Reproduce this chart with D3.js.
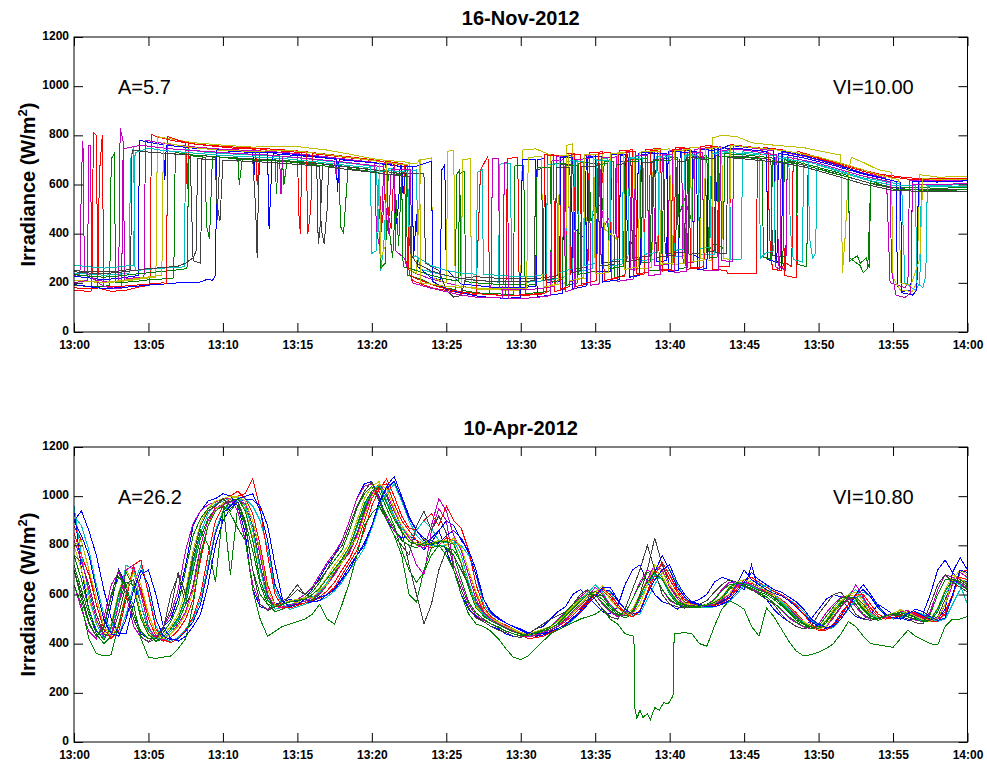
<!DOCTYPE html>
<html>
<head>
<meta charset="utf-8">
<script src="https://cdn.jsdelivr.net/npm/d3@7"></script>
<style>
  body { margin: 0; background: #fff; }
  svg text { font-family: Arial, "Liberation Sans", sans-serif; }
</style>
</head>
<body>
<svg id="chart" width="987" height="764"></svg>
<script>
// ---- ticks & labels ----
const timeTicks = [0, 5, 10, 15, 20, 25, 30, 35, 40, 45, 50, 55, 60]; // minutes after 13:00
const timeLabels = ["13:00", "13:05", "13:10", "13:15", "13:20", "13:25", "13:30",
                    "13:35", "13:40", "13:45", "13:50", "13:55", "14:00"];
const irrTicks = [0, 200, 400, 600, 800, 1000, 1200];

const novTitle = "16-Nov-2012";
const novNotes = ["A=5.7", "VI=10.00"];
const aprTitle = "10-Apr-2012";
const aprNotes = ["A=26.2", "VI=10.80"];

// matlab default line colours
const palette = ["#0000ff", "#008000", "#ff0000", "#00bfbf", "#bf00bf", "#bfbf00", "#404040"];

// ---- 16-Nov sensors: [minute, W/m2, minute, W/m2, ...] ----
const nov1 = [0,227, 1,220, 2,213, 3,218, 4,227, 4.3,230, 4.4,780, 5,772, 6,762, 6.1,620, 6.2,760, 8,748, 10,740, 12,734, 12.1,640, 12.2,732, 14,728, 16,716, 17.6,704, 17.7,580, 17.8,702, 20,690, 21.5,678, 21.6,430, 21.8,520, 21.9,676, 22.7,672, 22.8,300, 23,480, 23.1,265, 24,220, 24.6,213, 24.7,660, 24.9,680, 25,255, 26,195, 28,183, 30,181, 31,185, 31.1,700, 31.6,706, 31.7,200, 32.6,207, 32.7,710, 33.5,712, 33.6,420, 34.3,380, 34.4,714, 35,716, 35.1,245, 36,247, 36.1,722, 37,724, 37.1,480, 37.3,350, 37.8,400, 37.9,728, 39,730, 39.1,285, 39.8,290, 39.9,734, 41.5,738, 41.6,315, 42,300, 42.1,742, 43,746, 43.1,520, 43.3,750, 45,744, 46.5,734, 46.6,295, 47.2,283, 47.3,728, 49,708, 51,678, 53,642, 55,616, 55.2,610, 55.3,185, 55.6,165, 56.2,170, 56.3,612, 58,610, 60,615];
const nov2 = [0,190, 1,185, 2,185, 2.4,190, 2.5,705, 2.7,725, 2.8,200, 4,205, 5,212, 6,216, 6.7,220, 6.8,730, 8,720, 10,711, 11,708, 11.1,600, 11.3,705, 13.5,701, 13.6,560, 13.7,699, 16,689, 18,675, 20,661, 21,653, 21.1,450, 21.4,300, 21.6,560, 21.8,350, 22,649, 22.3,647, 22.4,230, 23,220, 23.5,210, 24,195, 25,178, 25.6,173, 25.7,640, 25.9,660, 26,170, 27,160, 28,155, 29.5,154, 29.6,675, 30.2,678, 30.3,156, 31.5,162, 32,168, 32.1,683, 33,685, 33.1,190, 33.8,200, 33.9,687, 34.6,690, 34.7,450, 35.2,520, 35.5,500, 35.6,693, 36.2,695, 36.3,222, 37,230, 37.1,699, 38.5,705, 38.6,248, 39.5,252, 39.6,707, 40.5,709, 40.6,258, 41.2,262, 41.3,711, 42.5,717, 42.6,330, 43,360, 43.6,340, 43.7,725, 45,721, 47,707, 47.1,290, 47.6,280, 47.7,701, 49,685, 51.5,645, 52,635, 52.1,300, 52.8,270, 53,240, 53.3,260, 53.5,605, 55,589, 58,585, 60,587];
const nov3 = [0,170, 1,165, 1.2,168, 1.3,810, 1.5,800, 1.6,180, 2.5,165, 3.5,170, 4.5,185, 5.1,190, 5.2,805, 5.5,795, 6.5,780, 7.5,770, 7.6,580, 7.7,767, 9,760, 11,751, 13,745, 15,737, 15.1,480, 15.2,400, 15.3,735, 17,723, 19,709, 20.5,697, 20.6,400, 20.8,500, 20.9,695, 22,685, 22.2,680, 22.3,260, 22.6,400, 22.7,210, 24,180, 26,158, 27,152, 27.3,660, 27.8,715, 27.9,152, 29,148, 30,148, 31,152, 31.5,155, 31.6,720, 32.2,723, 32.3,165, 33,175, 33.1,725, 33.6,727, 33.7,185, 34.5,195, 34.6,729, 35.5,733, 35.6,210, 36.5,218, 36.6,737, 37.5,741, 37.6,230, 38.3,236, 38.4,743, 39.4,746, 39.5,248, 40.3,250, 40.4,749, 41,751, 41.1,255, 42,260, 42.1,755, 42.8,759, 42.9,256, 43.8,250, 43.9,240, 45.8,240, 45.9,700, 46.3,751, 47.6,741, 47.7,230, 48.5,220, 48.6,735, 50,709, 52,675, 54,643, 56,627, 58,623, 60,625];
const nov4 = [0,240, 1,235, 2,231, 3,235, 3.7,240, 3.8,700, 4,755, 4.1,250, 5,255, 6,260, 7,263, 7.4,265, 7.5,743, 9,730, 11,723, 13,717, 15,709, 17,695, 19,683, 20.3,671, 20.4,520, 20.6,250, 20.8,350, 21,600, 21.1,665, 22.5,657, 23,659, 23.1,300, 23.3,255, 24,243, 26,217, 28,205, 28.5,203, 28.6,683, 29.3,687, 29.4,205, 30.5,203, 32,211, 33,225, 33.1,695, 33.8,697, 33.9,245, 34.8,257, 34.9,701, 35.8,705, 35.9,267, 36.8,275, 36.9,709, 38,713, 38.1,290, 39,297, 39.1,715, 40,717, 40.1,303, 41,310, 41.1,721, 42,725, 42.1,315, 43,317, 43.1,731, 44,737, 44.1,295, 44.8,297, 44.9,733, 46,725, 48,709, 48.1,420, 48.3,295, 48.9,285, 49,695, 50,681, 53,627, 55.5,601, 55.6,560, 55.8,200, 56.5,170, 56.8,200, 56.9,599, 58,595, 60,601];
const nov5 = [0,230, 0.4,235, 0.5,640, 0.6,775, 0.7,245, 1.5,210, 2.5,203, 3,205, 3.1,830, 3.3,775, 3.4,215, 4,220, 4.7,223, 4.8,780, 6,767, 8,753, 10,743, 12,738, 14,731, 16,719, 18,705, 20,691, 20.2,689, 20.3,420, 20.5,350, 20.7,500, 20.8,687, 21.5,683, 21.6,330, 22.2,300, 22.4,255, 23,237, 24,215, 26,185, 27.5,175, 28,173, 28.1,705, 28.5,707, 28.6,173, 30,171, 31,175, 32.3,185, 32.4,713, 33.2,715, 33.3,205, 34.2,219, 34.3,719, 35.2,721, 35.3,560, 35.6,430, 36,470, 36.1,725, 37.3,731, 37.4,255, 38,259, 38.1,733, 38.9,735, 39,270, 39.9,275, 40,737, 40.8,741, 40.9,281, 41.6,283, 41.7,743, 43.4,753, 43.5,290, 44.2,287, 44.3,757, 46,745, 47,737, 47.1,265, 47.4,255, 47.5,733, 49,715, 51,683, 53,647, 54.5,627, 54.6,560, 54.8,200, 55.8,180, 56,200, 56.1,618, 58,615, 60,619];
const nov6 = [0,210, 1,205, 2,200, 3,205, 4,212, 5,220, 5.5,222, 5.6,795, 6,790, 7,780, 8,770, 10,760, 12,752, 14,756, 15,754, 17,740, 19,718, 20,705, 21,698, 22.5,690, 22.6,250, 23,240, 23.3,700, 24,708, 24.1,220, 25,200, 25.1,735, 25.5,740, 25.6,190, 27,175, 29,170, 30,170, 30.1,740, 31,745, 32,720, 32.1,190, 33,200, 33.1,760, 33.5,765, 33.6,212, 34.4,220, 34.5,720, 35.5,725, 35.6,420, 36.4,380, 36.5,730, 37.6,735, 37.7,255, 38.8,262, 38.9,740, 40,745, 40.1,272, 41,280, 41.1,748, 42,750, 42.1,300, 42.8,290, 42.9,790, 43.5,800, 44.5,795, 45.5,770, 47,760, 49,750, 51,725, 51.5,720, 51.6,240, 51.8,400, 52,650, 52.2,710, 53,690, 54,660, 54.9,650, 55,220, 55.5,170, 56.3,165, 56.6,200, 56.8,640, 58,630, 60,632];
const nov7 = [0,250, 1,245, 2,245, 3,248, 3.8,255, 3.9,740, 5,732, 6.5,725, 7.8,720, 7.9,500, 8,290, 8.5,280, 8.6,718, 9.5,710, 9.6,450, 9.8,710, 12,704, 12.2,500, 12.3,300, 12.4,620, 12.5,702, 16.3,684, 16.4,360, 16.5,400, 16.7,682, 20,660, 22,644, 23.5,644, 23.6,280, 24.5,250, 25,170, 25.5,142, 26,148, 26.3,220, 27,225, 28,220, 30,216, 31.5,220, 32.5,230, 32.6,680, 33.5,682, 33.6,256, 34.5,266, 34.6,684, 35.3,687, 35.4,280, 36.6,288, 36.7,694, 37.4,696, 37.5,300, 38.8,310, 38.9,700, 39.6,702, 39.7,318, 41,325, 41.1,708, 42.4,712, 42.5,325, 43,330, 43.1,716, 45,714, 46.8,702, 46.9,310, 47.8,305, 47.9,695, 50,664, 52,630, 54,596, 56,580, 58,578, 60,580];
const nov8 = [0,193, 1,185, 2,177, 3,180, 4,185, 5,191, 6,195, 7,200, 8,203, 8.3,200, 9,215, 9.3,210, 9.5,230, 9.6,740, 11,733, 13,729, 13.1,420, 13.3,700, 13.4,725, 16,713, 17.6,703, 17.7,570, 17.8,701, 20,689, 21.5,677, 22,673, 22.1,560, 22.3,673, 23,675, 24,695, 24.1,205, 25,175, 26,160, 27,147, 28,140, 29,137, 30,141, 30.1,700, 31,702, 31.1,143, 32,150, 32.8,157, 32.9,715, 33.4,717, 33.5,175, 34.4,187, 34.5,711, 35.4,713, 35.5,203, 36.6,213, 36.7,719, 37.2,721, 37.3,223, 38,230, 38.1,723, 39.8,727, 39.9,247, 40.6,249, 40.7,729, 41.8,735, 41.9,255, 42.5,257, 42.6,737, 43.5,745, 44,760, 45,753, 47,743, 47.1,300, 47.5,260, 47.6,735, 49,717, 51,685, 53,645, 55,615, 55.5,610, 55.6,160, 56.3,150, 56.6,170, 56.7,611, 58,611, 60,615];
const nov9 = [0,233, 1,227, 2,223, 3,228, 4,235, 5,241, 6,247, 7,253, 7.5,257, 7.6,265, 7.7,700, 7.8,717, 8.8,711, 8.9,430, 9.1,380, 9.3,715, 11,703, 13,697, 14,695, 14.1,600, 14.3,693, 16,681, 17.8,669, 17.9,430, 18.1,400, 18.4,665, 20,653, 20.5,649, 20.6,260, 20.9,280, 21.1,640, 21.5,643, 22,640, 22.1,265, 23,250, 24,230, 25,215, 25.8,207, 25.9,645, 26.2,653, 26.3,205, 27.5,197, 29,193, 30.5,191, 31,193, 31.1,667, 32,671, 32.1,203, 32.8,213, 32.9,675, 33.8,678, 33.9,235, 35,247, 35.1,681, 35.8,685, 35.9,257, 36.9,267, 37,691, 38,695, 38.1,281, 38.7,285, 38.8,695, 40.5,701, 40.6,470, 41,540, 41.5,450, 41.6,703, 42.6,709, 42.7,301, 43.2,305, 43.3,713, 45,711, 46.2,703, 46.3,305, 46.8,295, 46.9,697, 48.5,685, 48.6,275, 49.2,265, 49.3,675, 51,645, 52,630, 52.1,290, 52.6,310, 52.8,280, 53.2,300, 53.4,260, 53.5,615, 55,581, 58,575, 60,579];
const nov10 = [0,180, 1,175, 1.6,175, 1.7,640, 1.9,800, 2,185, 3,185, 4,190, 5,195, 6,200, 6.2,197, 6.3,795, 7,780, 8,765, 9.5,755, 11,746, 12.2,744, 12.3,600, 12.5,742, 14,736, 15.6,728, 15.7,400, 15.9,500, 16,726, 18,712, 20,698, 21,690, 21.1,480, 21.3,420, 21.5,685, 22,680, 22.4,678, 22.5,235, 23,217, 23.5,205, 24.5,183, 26,163, 28,151, 29,150, 29.1,706, 29.8,710, 29.9,151, 31,155, 31.7,159, 31.8,716, 32.6,719, 32.7,175, 33.3,185, 33.4,722, 34,724, 34.1,195, 35.1,209, 35.2,726, 36,730, 36.1,218, 37,227, 37.1,734, 37.7,736, 37.8,237, 38.6,243, 38.7,738, 39.2,740, 39.3,253, 40.1,255, 40.2,742, 41.3,748, 41.4,261, 42.3,265, 42.4,750, 43.2,756, 43.3,267, 44,267, 44.1,762, 45.5,752, 46.6,745, 46.7,400, 46.9,255, 47.5,250, 47.7,285, 48.2,265, 48.3,732, 50,706, 52,670, 54,638, 56,622, 58,618, 60,620];
const nov11 = [0,272, 1,265, 2,260, 3,265, 4,272, 4.1,730, 5,748, 6,738, 8,728, 10,718, 12,712, 14,706, 16,694, 18,680, 19.9,668, 20,320, 20.3,330, 20.5,650, 21,658, 22,652, 22.4,650, 22.5,420, 22.7,300, 22.9,310, 24,270, 25,250, 26,240, 27,235, 27.1,650, 27.4,660, 27.5,235, 29,228, 30,226, 31,228, 31.7,236, 31.8,680, 32.4,685, 32.5,240, 33.5,258, 33.6,692, 34.2,694, 34.3,270, 35,280, 35.1,696, 36,700, 36.1,292, 37.2,300, 37.3,706, 38.2,708, 38.3,316, 39.2,324, 39.3,710, 40.2,714, 40.3,332, 40.9,336, 41,716, 41.9,720, 42,340, 42.7,345, 42.8,724, 44,730, 45,726, 46,720, 46.1,300, 46.4,320, 47,330, 47.1,710, 49.3,690, 49.4,380, 49.6,300, 49.8,320, 49.9,680, 51,660, 53,622, 55,596, 56.5,594, 56.6,200, 57,180, 57.2,230, 57.3,594, 58,590, 60,592];
const nov12 = [0,200, 0.9,210, 1.0,760, 1.1,760, 1.2,220, 2,185, 3,175, 3.2,178, 3.3,745, 4.5,760, 5.5,752, 7,742, 9,734, 11,726, 13,720, 13.8,716, 13.9,560, 14,715, 16,704, 17.5,695, 17.6,640, 17.7,694, 20,678, 20.8,672, 20.9,540, 21.1,400, 21.3,660, 22,662, 22.6,660, 22.7,200, 24,178, 26,150, 27,142, 28.8,138, 28.9,688, 29.1,690, 29.2,138, 30,136, 31,140, 32,148, 32.1,698, 32.9,700, 33,164, 33.6,175, 33.7,702, 34.6,705, 34.7,190, 35.3,196, 35.4,708, 36.4,712, 36.5,206, 37.6,216, 37.7,716, 38.5,718, 38.6,228, 39.4,236, 39.5,720, 40.2,722, 40.3,242, 41.1,246, 41.2,728, 42.2,730, 42.3,250, 43.3,252, 43.4,738, 44.5,744, 45.5,736, 47.2,720, 47.3,270, 47.8,250, 47.9,712, 50,686, 53,634, 54.8,612, 54.9,250, 55.2,150, 55.8,140, 56.2,160, 56.3,602, 58,600, 60,604];
const nov13 = [0,210, 1,206, 2,202, 3,208, 4,216, 5,224, 5.9,232, 6,770, 7,760, 8,750, 10,738, 12,735, 14,738, 15,736, 17,722, 19,706, 20.5,694, 20.6,300, 20.9,350, 21,690, 22,682, 23,685, 23.2,700, 23.3,200, 24,195, 25,185, 26,182, 26.1,700, 26.6,705, 26.7,180, 28,175, 29,176, 30.4,176, 30.5,710, 31.4,714, 31.5,182, 32.5,194, 32.6,718, 33.2,720, 33.3,208, 34.2,222, 34.3,722, 34.9,724, 35,236, 35.9,242, 36,726, 36.9,728, 37,255, 37.9,265, 38,732, 39.3,736, 39.4,276, 40.2,280, 40.3,738, 41.4,742, 41.5,288, 42.3,290, 42.4,746, 43.5,752, 43.6,300, 44,295, 44.1,760, 46,748, 48,735, 50,712, 52,678, 53,660, 54,640, 55,625, 55.4,620, 55.5,200, 56.2,190, 56.8,300, 57,624, 58,620, 60,622];
const nov14 = [0,245, 1,240, 2,238, 3,242, 4,250, 5,258, 6,262, 7,268, 7.5,280, 8,302, 8.2,330, 8.3,705, 9.5,700, 9.6,520, 9.8,450, 10,698, 12,694, 13,690, 15,682, 16.5,674, 16.6,420, 16.8,360, 17,500, 17.1,670, 20,650, 22,634, 22.5,632, 22.6,320, 23,280, 24,248, 25,230, 26,218, 27,210, 28,206, 29,205, 30,206, 30.9,208, 31,660, 31.4,664, 31.5,210, 32.3,218, 32.4,668, 33.3,670, 33.4,240, 34,250, 34.1,672, 35.2,676, 35.3,268, 36.3,276, 36.4,682, 37,684, 37.1,286, 38.1,296, 38.2,688, 39,690, 39.1,304, 40.4,312, 40.5,694, 41.2,696, 41.3,316, 42,320, 42.1,700, 43,706, 43.1,322, 43.8,320, 43.9,710, 45,704, 47,692, 49,672, 51,638, 53,602, 55,576, 58,570, 60,573];

// ---- 10-Apr sensors: one value every 30 s from 13:00 to 14:00 ----
const aprStep = 0.5; // minutes between samples
const apr1 = [950,700,540,450,430,560,700,640,520,440,420,425,470,500,590,720,880,940,980,990,
  1010,1000,960,850,620,550,540,560,570,580,570,590,620,670,720,760,820,900,990,1050,
  1060,1000,900,860,830,840,820,780,830,860,780,700,600,540,510,490,470,460,440,430,
  425,440,460,470,500,530,550,600,620,590,560,530,520,550,640,700,720,650,600,570,
  560,540,560,570,580,600,650,670,660,640,620,720,610,580,540,510,490,470,460,500,
  540,580,600,590,540,510,500,520,560,540,520,505,495,500,520,600,700,740,690,660,
  650];
const apr2 = [720,620,520,440,400,430,560,650,640,520,440,410,420,450,490,560,700,830,910,950,
  960,940,980,900,780,640,560,530,540,555,560,565,580,600,640,690,740,790,870,950,
  1010,1020,950,880,780,700,650,690,760,800,790,780,730,640,560,510,495,480,465,450,
  440,432,438,448,462,478,500,530,560,590,600,580,545,520,505,520,580,640,700,670,
  600,565,550,545,548,552,560,580,620,640,635,625,610,600,580,555,525,495,478,462,
  458,485,525,560,585,575,535,505,495,505,515,520,510,500,488,492,530,600,650,640,
  620];
const apr3 = [850,760,680,560,460,420,470,600,700,620,500,430,410,425,455,500,580,740,880,960,
  990,1000,1020,990,930,800,640,560,545,550,560,565,575,590,615,650,700,745,810,900,
  990,1040,1050,970,900,860,820,800,790,800,830,820,790,700,600,530,505,480,470,455,
  440,420,425,445,455,470,490,515,545,575,600,615,590,550,520,510,535,610,700,720,
  660,610,570,560,550,555,560,570,590,630,650,645,630,610,600,580,555,525,490,470,
  455,455,480,525,560,595,585,545,510,500,505,520,530,520,505,490,490,530,600,670,
  660];
const apr4 = [920,880,780,640,520,450,430,520,640,720,610,470,420,410,425,460,500,580,720,860,
  940,965,980,990,960,900,790,620,560,540,550,560,570,575,590,615,650,700,740,790,
  870,960,1010,1050,980,900,840,810,800,800,800,810,800,760,680,560,520,500,485,470,
  455,440,430,435,445,455,470,495,525,560,590,620,610,560,530,515,520,580,640,690,
  700,640,590,560,550,545,550,560,570,600,640,660,645,630,615,600,580,560,530,495,
  475,460,465,500,540,580,610,590,550,515,500,505,520,530,520,505,490,500,560,620,
  680];
const apr5 = [640,540,450,420,500,640,690,600,470,425,410,430,470,520,620,780,890,940,965,975,
  990,990,940,820,640,560,540,550,565,575,580,600,630,680,730,770,820,900,990,1040,
  1050,990,910,860,820,800,720,680,860,950,900,720,640,560,515,495,480,465,450,440,
  430,435,445,458,470,500,530,560,590,615,600,560,530,510,520,580,650,700,680,620,
  575,560,552,550,553,560,580,620,650,650,635,620,605,590,565,535,505,485,468,460,
  480,525,560,590,590,550,515,500,505,515,525,520,508,495,490,530,620,680,670,645,
  625];
const apr6 = [800,700,580,490,440,480,610,700,650,510,440,420,435,470,520,620,780,890,950,980,
  990,1000,995,945,830,660,580,555,565,575,580,585,600,630,670,720,760,810,900,990,
  1040,1060,970,910,860,820,810,805,810,820,820,810,730,630,550,520,500,485,470,455,
  445,440,450,460,470,490,520,550,580,610,640,600,560,530,515,540,600,660,700,675,
  615,575,560,555,555,560,570,590,630,650,650,640,625,610,590,565,535,505,485,470,
  465,495,540,575,600,590,550,515,505,515,525,535,520,510,495,500,545,620,680,665,
  645];
const apr7 = [760,730,640,520,440,430,520,640,660,560,450,420,460,600,680,560,620,800,900,950,
  970,980,985,960,880,720,590,550,560,600,640,600,590,610,640,690,730,780,850,940,
  1010,1040,1000,920,860,720,600,480,560,700,780,760,700,640,570,520,500,480,465,450,
  440,430,432,445,455,470,500,530,560,580,600,595,560,530,512,525,600,700,830,720,
  640,590,570,560,555,555,560,575,600,640,650,635,620,605,590,570,540,510,485,470,
  462,470,510,550,580,590,560,520,505,505,515,525,520,510,495,490,510,580,650,660,
  640];
const apr8 = [900,940,860,760,620,500,440,440,560,680,700,600,470,420,410,430,470,520,640,800,
  900,950,975,985,985,960,880,720,580,545,555,565,570,575,600,625,665,715,760,810,
  880,970,1030,1060,990,910,860,820,800,810,840,860,830,770,680,580,530,505,485,470,
  455,440,430,435,448,460,480,505,535,570,600,620,615,575,540,520,560,640,690,760,
  700,630,590,565,555,550,555,570,590,640,700,660,640,620,605,595,575,550,520,490,
  470,462,475,515,560,600,620,590,545,515,505,510,525,530,515,500,500,540,690,750,
  700];
const apr9 = [700,580,480,430,460,590,670,640,520,450,420,420,445,490,560,700,840,910,950,965,
  980,680,960,880,700,600,560,550,560,570,575,590,610,650,700,740,780,860,950,1010,
  1040,980,920,870,820,800,790,810,820,800,790,760,660,570,525,500,480,468,452,440,
  432,436,446,455,470,495,525,560,585,600,600,565,535,515,525,580,640,690,680,620,
  580,560,550,550,552,560,578,615,640,645,632,618,605,590,565,540,510,488,470,462,
  470,510,550,585,595,560,520,502,500,512,522,518,508,498,490,520,600,660,660,640,
  620];
const apr10 = [880,820,700,560,460,420,450,580,720,740,600,460,415,405,420,455,510,600,760,900,
  960,990,1000,1010,1070,950,760,600,550,545,555,565,575,585,600,630,680,730,780,860,
  960,1030,1070,1000,920,870,860,900,930,880,960,900,870,780,640,550,510,490,475,460,
  445,430,425,430,445,460,480,500,530,565,600,625,600,560,525,510,530,600,680,730,
  680,620,580,560,552,550,555,565,585,620,660,670,650,630,612,600,580,555,520,480,
  460,455,470,510,560,600,600,560,520,505,505,515,530,525,510,495,490,520,590,690,
  700];
const apr11 = [960,760,600,480,420,460,580,720,700,560,460,420,420,450,500,580,720,850,930,970,
  980,990,1000,960,860,700,580,540,548,560,565,572,590,610,650,700,745,790,870,960,
  1020,1050,980,920,870,830,860,900,870,820,810,820,760,650,560,520,495,480,462,448,
  438,432,440,452,462,482,512,545,575,605,640,610,555,528,512,528,585,640,680,660,
  605,570,555,550,550,555,565,585,625,650,645,635,620,640,600,570,540,505,485,468,
  462,492,530,570,600,620,580,520,505,512,520,528,518,506,492,496,540,600,650,640,
  560];
const apr12 = [820,740,620,500,430,440,560,700,720,600,470,420,415,440,480,530,640,800,900,950,
  965,975,985,970,900,760,600,550,548,558,566,572,585,605,640,680,730,770,840,930,
  1010,1050,1010,940,880,830,800,790,880,990,940,840,780,680,580,525,500,480,466,452,
  438,428,434,446,456,472,496,526,556,590,630,600,560,530,512,525,590,660,720,700,
  630,585,560,552,550,555,562,578,600,635,650,640,625,610,598,578,548,515,490,472,
  462,468,505,548,585,640,590,530,505,505,515,530,535,515,500,492,500,560,640,690,
  670];
const apr13 = [800,820,700,590,470,430,480,610,690,640,520,445,420,440,470,520,610,770,880,945,
  970,990,1000,980,900,780,620,555,560,575,565,590,585,620,640,700,730,790,830,920,
  1000,1050,1030,950,880,840,800,830,790,820,800,830,790,700,610,540,505,490,470,460,
  445,435,440,450,465,480,505,525,560,590,610,635,580,545,520,520,560,640,720,690,
  640,600,565,560,550,560,565,585,600,650,660,650,630,615,600,575,550,520,490,470,
  458,470,520,570,600,610,570,525,505,510,520,540,525,512,498,490,505,560,660,700,
  680];
const apr14 = [700,600,490,430,470,600,700,620,500,430,405,420,470,540,690,600,760,880,940,960,
  990,960,975,890,700,560,535,550,575,590,620,600,625,660,700,760,800,880,960,1020,
  1060,980,900,840,800,760,880,940,860,920,850,700,620,545,505,490,470,455,445,430,
  425,440,460,480,500,515,530,560,600,620,580,540,510,500,540,620,700,800,700,600,
  560,550,545,555,560,575,610,640,660,650,640,620,600,580,560,520,490,470,460,470,
  520,560,600,610,570,520,500,495,505,515,520,510,500,485,480,560,640,680,650,630,
  610];
const apr15 = [900,840,760,620,500,440,430,500,620,700,640,500,430,415,420,450,490,560,700,850,
  930,960,990,1000,1010,940,820,640,570,550,560,580,570,590,600,620,660,700,760,800,
  880,980,1040,1080,1000,920,860,830,810,860,900,880,820,780,700,580,525,500,485,470,
  460,445,440,440,450,462,475,500,525,560,590,630,630,580,540,520,530,600,660,700,
  720,650,600,570,560,550,550,560,575,610,650,690,660,640,620,610,590,570,540,500,
  480,465,470,500,545,600,640,600,555,520,505,500,520,540,530,510,495,505,600,700,
  690];
const apr16 = [760,660,540,455,415,470,600,690,630,500,435,412,428,460,505,590,740,860,800,650,
  940,980,990,940,820,660,575,550,560,570,575,580,600,625,665,705,745,795,880,970,
  1020,1040,970,905,855,815,805,800,805,815,815,805,725,625,545,515,492,478,462,448,
  438,434,442,452,462,482,512,542,572,600,612,592,552,527,512,532,592,652,688,662,
  612,572,557,552,552,557,567,587,627,647,642,632,617,607,587,562,532,502,482,467,
  462,492,532,567,592,582,542,512,502,512,522,527,517,507,492,497,542,612,662,652,
  632];
// the low green sensor (with the dropout near 13:38), as [minute, W/m2] pairs
const aprLow = [0,640, 0.5,560, 1,420, 1.5,360, 2,350, 2.5,355, 3,480, 3.5,600, 4,560, 4.5,420, 5,345, 5.5,340, 6,345, 6.5,350, 7,380, 7.5,420, 8,560, 8.5,760, 9,880, 9.5,940, 10,960, 10.5,930, 11,870, 11.5,820, 12,620, 12.5,500, 13,430, 13.5,450, 14,470, 15,490, 15.5,500, 16,520, 16.5,560, 17,500, 17.5,480, 18,560, 18.5,650, 19,760, 19.5,880, 20,930, 20.5,960, 21,900, 21.5,840, 22,760, 22.5,600, 23,570, 23.5,700, 24,790, 24.5,800, 25,760, 25.5,700, 26,600, 26.5,520, 27,480, 27.5,470, 28,450, 28.5,420, 29,380, 29.5,345, 30,335, 30.5,350, 31,380, 31.5,410, 32,440, 33,470, 34,500, 35,520, 35.5,540, 36,500, 36.5,480, 37,440, 37.6,430, 37.65,140, 37.8,95, 38,130, 38.2,100, 38.5,115, 38.7,90, 39,140, 39.3,130, 39.6,160, 39.9,155, 40.2,185, 40.25,195, 40.3,440, 41,445, 41.5,440, 42,400, 42.5,390, 43,470, 43.5,540, 44,575, 44.5,560, 45,540, 45.5,470, 46,430, 46.5,545, 47,510, 48,410, 48.5,370, 49,350, 49.5,355, 50,365, 50.5,380, 51,400, 51.5,440, 52,490, 52.5,470, 53,430, 53.5,400, 54,395, 55,385, 55.5,420, 56,455, 56.5,430, 57,415, 57.5,400, 58,395, 58.5,470, 59,500, 59.5,500, 60,510];

const novSensors = [nov1, nov2, nov3, nov4, nov5, nov6, nov7, nov8, nov9, nov10, nov11, nov12, nov13, nov14];
const aprSensors = [apr1, apr2, apr3, apr4, apr5, apr6, apr7, apr8, apr9, apr10, apr11, apr12,
                    apr13, apr14, apr15, apr16];

// ---- helpers ----
const pairs = a => d3.range(0, a.length - 1, 2).map(i => [a[i], a[i + 1]]);
const sampled = a => a.map((v, i) => [i * aprStep, v]);

const svg = d3.select("#chart");
const left = 74, right = 967.5, plotH = 295;
const x = d3.scaleLinear().domain([0, 60]).range([left, right]);

function drawPanel(top, title, notes, lines, id) {
    const bottom = top + plotH;
    const y = d3.scaleLinear().domain([0, 1200]).range([bottom, top]);
    const g = svg.append("g");

    g.append("clipPath").attr("id", id).append("rect")
        .attr("x", left).attr("y", top).attr("width", right - left).attr("height", plotH);

    const line = d3.line().x(d => x(d[0])).y(d => y(d[1]));
    g.append("g")
        .attr("clip-path", `url(#${id})`)
        .selectAll("path")
        .data(lines)
        .join("path")
        .attr("d", d => line(d.pts))
        .attr("fill", "none")
        .attr("stroke", d => d.color)
        .attr("stroke-width", 1)
        .attr("shape-rendering", "crispEdges");

    // axes, ticks pointing inward on all four sides
    const styleAxis = sel => {
        sel.attr("font-family", "Arial, 'Liberation Sans', sans-serif")
           .attr("font-size", 12).attr("font-weight", "bold");
        sel.select(".domain").remove();
        sel.selectAll("line").attr("stroke", "#000");
        sel.selectAll("text").attr("fill", "#000");
    };
    g.append("g").attr("transform", `translate(0,${bottom})`)
        .call(d3.axisBottom(x).tickValues(timeTicks).tickFormat((d, i) => timeLabels[i])
            .tickSizeInner(-9).tickSizeOuter(0).tickPadding(8))
        .call(styleAxis);
    g.append("g").attr("transform", `translate(0,${top})`)
        .call(d3.axisTop(x).tickValues(timeTicks).tickFormat("").tickSizeInner(-9).tickSizeOuter(0))
        .call(styleAxis);
    g.append("g").attr("transform", `translate(${left},0)`)
        .call(d3.axisLeft(y).tickValues(irrTicks).tickFormat(d3.format("d"))
            .tickSizeInner(-9).tickSizeOuter(0).tickPadding(5))
        .call(styleAxis)
        .selectAll("text").attr("dy", "0.22em");
    g.append("g").attr("transform", `translate(${right},0)`)
        .call(d3.axisRight(y).tickValues(irrTicks).tickFormat("").tickSizeInner(-9).tickSizeOuter(0))
        .call(styleAxis);

    g.append("rect")
        .attr("x", left).attr("y", top).attr("width", right - left).attr("height", plotH)
        .attr("fill", "none").attr("stroke", "#000").attr("stroke-width", 1);

    // title
    g.append("text")
        .attr("x", (left + right) / 2).attr("y", top - 12)
        .attr("text-anchor", "middle")
        .style("font-size", "20px").style("font-weight", "bold")
        .text(title);

    // y label with superscript
    const yl = g.append("text")
        .attr("transform", `translate(35,${(top + bottom) / 2}) rotate(-90)`)
        .attr("text-anchor", "middle")
        .style("font-size", "20px").style("font-weight", "bold");
    yl.append("tspan").text("Irradiance (W/m");
    yl.append("tspan").attr("dy", -8).style("font-size", "13px").text("2");
    yl.append("tspan").attr("dy", 8).text(")");

    // annotations
    g.append("text").attr("x", 118).attr("y", top + 57).style("font-size", "20px").text(notes[0]);
    g.append("text").attr("x", 833).attr("y", top + 57).style("font-size", "20px").text(notes[1]);
}

const novLines = novSensors.map((s, i) => ({ pts: pairs(s), color: palette[i % 7] }));
const aprLines = aprSensors.map((s, i) => ({ pts: sampled(s), color: palette[i % 7] }));
aprLines.push({ pts: pairs(aprLow), color: palette[1] });

drawPanel(37, novTitle, novNotes, novLines, "clip-nov");
drawPanel(447, aprTitle, aprNotes, aprLines, "clip-apr");
</script>
</body>
</html>
